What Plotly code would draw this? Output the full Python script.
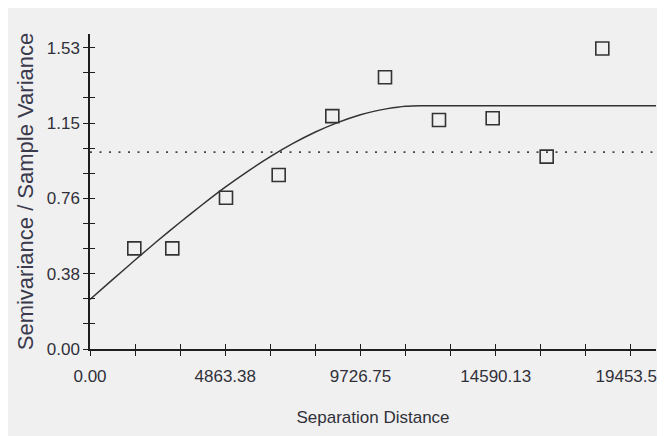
import numpy as np
import plotly.graph_objects as go

# ---- data ----
lag_distance = [1593, 2959, 4890, 6785, 8713, 10608, 12549, 14480, 16422, 18422]
semivariance_ratio = [0.511, 0.511, 0.768, 0.884, 1.183, 1.380, 1.163, 1.172, 0.977, 1.526]

model_distance = [0, 800, 1621, 2400, 3242, 4000, 4863, 5700, 6485, 7300, 8106,
                  8900, 9727, 10200, 10700, 11350, 11900, 20353]
model_ratio = [0.252, 0.351, 0.452, 0.546, 0.644, 0.729, 0.822, 0.905, 0.977, 1.044,
               1.102, 1.150, 1.190, 1.207, 1.221, 1.233, 1.236, 1.236]

sample_variance_ratio = 1.0

x_tick_labels = ["0.00", "4863.38", "9726.75", "14590.13", "19453.50"]
y_tick_labels = ["0.00", "0.38", "0.76", "1.15", "1.53"]

# ---- layout geometry (page has an 8px body margin) ----
W, H = 657, 428
ML, MR, MT, MB = 82, 9, 26, 87
X_MAX = 20353
Y_MAX = 1.60

x_major = [float(t) for t in x_tick_labels]
y_major = [0.0, 0.3825, 0.765, 1.1475, 1.53]
x_ticks = list(np.linspace(0, x_major[-1], 13))
y_ticks = list(np.linspace(0, y_major[-1], 13))
x_text = [x_tick_labels[i // 3] if i % 3 == 0 else "" for i in range(13)]
y_text = [y_tick_labels[i // 3] if i % 3 == 0 else "" for i in range(13)]

TXT = "#30303a"
AX = "#1e1e1e"
FONT = "Liberation Sans, Arial, sans-serif"

fig = go.Figure()
fig.add_trace(go.Scatter(
    x=[0, X_MAX], y=[sample_variance_ratio, sample_variance_ratio],
    mode="lines", line=dict(color="#444444", width=1.6, dash="2px,7.5px"),
    xaxis="x2", yaxis="y2", hoverinfo="skip", showlegend=False))
fig.add_trace(go.Scatter(
    x=model_distance, y=model_ratio, mode="lines",
    line=dict(color="#333333", width=1.5, shape="spline", smoothing=0.6),
    showlegend=False))
fig.add_trace(go.Scatter(
    x=lag_distance, y=semivariance_ratio, mode="markers",
    marker=dict(symbol="square-open", size=13, color="#333333",
                line=dict(width=1.6, color="#333333")),
    showlegend=False))

common_x = dict(range=[0, X_MAX], tickvals=x_ticks, showgrid=False, zeroline=False,
                ticklen=5, tickwidth=1.3, tickcolor=AX, automargin=False)
common_y = dict(range=[0, Y_MAX], tickvals=y_ticks, showgrid=False, zeroline=False,
                ticklen=5, tickwidth=1.3, tickcolor=AX, automargin=False)

fig.update_layout(
    width=W, height=H,
    margin=dict(l=ML, r=MR, t=MT, b=MB, pad=0, autoexpand=False),
    paper_bgcolor="#f0f0f0", plot_bgcolor="#f0f0f0",
    xaxis=dict(**common_x, ticktext=x_text, ticks="outside",
               showline=True, linecolor=AX, linewidth=1.5,
               ticklabeloverflow="allow", ticklabelstandoff=6,
               tickfont=dict(family=FONT, size=17, color=TXT),
               title=dict(text="Separation Distance", standoff=26,
                          font=dict(family=FONT, size=17, color=TXT))),
    yaxis=dict(**common_y, ticktext=y_text, ticks="outside",
               showline=True, linecolor=AX, linewidth=1.5,
               ticklabelstandoff=0,
               tickfont=dict(family=FONT, size=17, color=TXT),
               title=dict(text="Semivariance / Sample Variance", standoff=7,
                          font=dict(family=FONT, size=22, color="#3a3a4c"))),
    xaxis2=dict(**common_x, overlaying="x", anchor="y2", side="bottom",
                ticks="inside", showticklabels=False, showline=False),
    yaxis2=dict(**common_y, overlaying="y", anchor="x2", side="left",
                ticks="inside", showticklabels=False, showline=False),
)

fig.write_html("out.html")
